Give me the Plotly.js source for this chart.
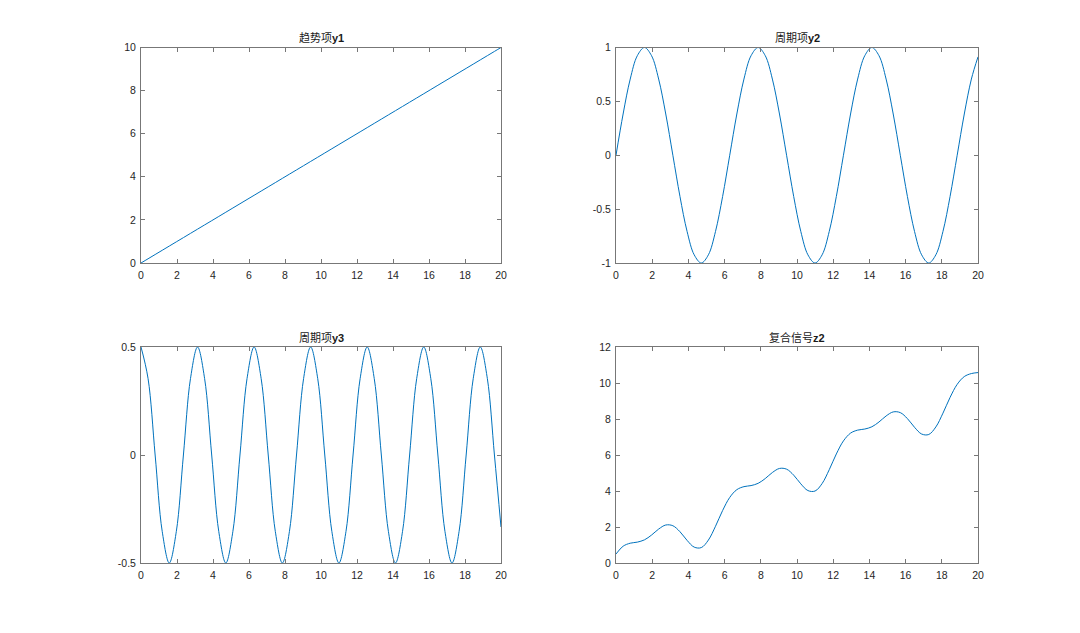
<!DOCTYPE html>
<html><head><meta charset="utf-8">
<script src="https://cdn.plot.ly/plotly-3.0.1.min.js"></script>
<style>html,body{margin:0;padding:0;background:#fff}#chart{width:1080px;height:633px}</style>
</head><body><div id="chart"></div>
<script>
// sample times (read at eighth-period spacing)
const t = [0,0.3927,0.7854,1.1781,1.5708,1.9635,2.3562,2.7489,3.1416,3.5343,3.9270,4.3197,4.7124,5.1051,5.4978,5.8905,6.2832,6.6759,7.0686,7.4613,7.8540,8.2467,8.6394,9.0321,9.4248,9.8175,10.2102,10.6029,10.9956,11.3883,11.7810,12.1737,12.5664,12.9591,13.3518,13.7445,14.1372,14.5299,14.9226,15.3153,15.7080,16.1007,16.4934,16.8861,17.2788,17.6715,18.0642,18.4569,18.8496,19.2423,19.6350,20];
// 趋势项 y1
const y1 = [0,0.1963,0.3927,0.5890,0.7854,0.9817,1.1781,1.3744,1.5708,1.7671,1.9635,2.1598,2.3562,2.5525,2.7489,2.9452,3.1416,3.3379,3.5343,3.7306,3.9270,4.1233,4.3197,4.5160,4.7124,4.9087,5.1051,5.3014,5.4978,5.6941,5.8905,6.0868,6.2832,6.4795,6.6759,6.8722,7.0686,7.2649,7.4613,7.6576,7.8540,8.0503,8.2467,8.4430,8.6394,8.8357,9.0321,9.2284,9.4248,9.6211,9.8175,10];
// 周期项 y2
const y2 = [0,0.3827,0.7071,0.9239,1,0.9239,0.7071,0.3827,0,-0.3827,-0.7071,-0.9239,-1,-0.9239,-0.7071,-0.3827,0,0.3827,0.7071,0.9239,1,0.9239,0.7071,0.3827,0,-0.3827,-0.7071,-0.9239,-1,-0.9239,-0.7071,-0.3827,0,0.3827,0.7071,0.9239,1,0.9239,0.7071,0.3827,0,-0.3827,-0.7071,-0.9239,-1,-0.9239,-0.7071,-0.3827,0,0.3827,0.7071,0.9129];
// 周期项 y3
const y3 = [0.5,0.3536,0,-0.3536,-0.5,-0.3536,0,0.3536,0.5,0.3536,0,-0.3536,-0.5,-0.3536,0,0.3536,0.5,0.3536,0,-0.3536,-0.5,-0.3536,0,0.3536,0.5,0.3536,0,-0.3536,-0.5,-0.3536,0,0.3536,0.5,0.3536,0,-0.3536,-0.5,-0.3536,0,0.3536,0.5,0.3536,0,-0.3536,-0.5,-0.3536,0,0.3536,0.5,0.3536,0,-0.3334];
// 复合信号 z2
const z2 = [0.5,0.9326,1.0998,1.1593,1.2854,1.5520,1.8852,2.1107,2.0708,1.7380,1.2564,0.8823,0.8562,1.2750,2.0418,2.9161,3.6416,4.0742,4.2414,4.3009,4.4270,4.6936,5.0268,5.2523,5.2124,4.8796,4.3980,4.0239,3.9978,4.4166,5.1834,6.0577,6.7832,7.2158,7.3830,7.4425,7.5686,7.8352,8.1684,8.3939,8.3540,8.0212,7.5396,7.1655,7.1394,7.5582,8.3250,9.1993,9.9248,10.3574,10.5246,10.5795];

const titles = ['趋势项<b>y1</b>','周期项<b>y2</b>','周期项<b>y3</b>','复合信号<b>z2</b>'];
const series = [y1,y2,y3,z2];
const xTicks = [0,2,4,6,8,10,12,14,16,18,20];
const yRanges = [[0,10],[-1,1],[-0.5,0.5],[0,12]];
const yTicks = [[0,2,4,6,8,10],[-1,-0.5,0,0.5,1],[-0.5,0,0.5],[0,2,4,6,8,10,12]];

const W=1080,H=633;
const xDom = [[141/W,501/W],[616/W,978/W],[141/W,501/W],[616/W,978/W]];
const yDom = [[1-263/H,1-47.5/H],[1-263/H,1-47.5/H],[1-563/H,1-347/H],[1-563/H,1-347/H]];
const font = {family:'"Liberation Sans", Arial, "Noto Sans CJK SC", sans-serif', size:10.5, color:'#262626'};

const data=[], layout={width:W,height:H,margin:{l:0,r:0,t:0,b:0},showlegend:false,paper_bgcolor:'#fff',plot_bgcolor:'#fff',font:font,annotations:[]};
for(let i=0;i<4;i++){
  const s = i===0?'':String(i+1);
  data.push({x:t,y:series[i],type:'scatter',mode:'lines',line:{color:'#0072BD',width:1,shape:'spline',smoothing:1},xaxis:'x'+s,yaxis:'y'+s,hoverinfo:'none'});
  const ax = {showline:true,linecolor:'#777777',linewidth:1,mirror:'ticks',ticks:'inside',ticklen:4,tickwidth:1,tickcolor:'#777777',showgrid:false,zeroline:false,tickfont:font};
  layout['xaxis'+s]=Object.assign({},ax,{domain:xDom[i],range:[0,20],tickvals:xTicks,ticktext:xTicks.map(String),anchor:'y'+s,ticklabelstandoff:2});
  layout['yaxis'+s]=Object.assign({},ax,{domain:yDom[i],range:yRanges[i],tickvals:yTicks[i],ticktext:yTicks[i].map(String),anchor:'x'+s,ticklabelstandoff:2});
  layout.annotations.push({text:titles[i],xref:'paper',yref:'paper',x:(xDom[i][0]+xDom[i][1])/2,y:yDom[i][1],yshift:1,xanchor:'center',yanchor:'bottom',showarrow:false,font:{family:'"Liberation Sans", Arial, "Noto Sans CJK SC", sans-serif',size:11,color:'#1a1a1a'}});
}
Plotly.newPlot('chart',data,layout,{staticPlot:true});
</script></body></html>
